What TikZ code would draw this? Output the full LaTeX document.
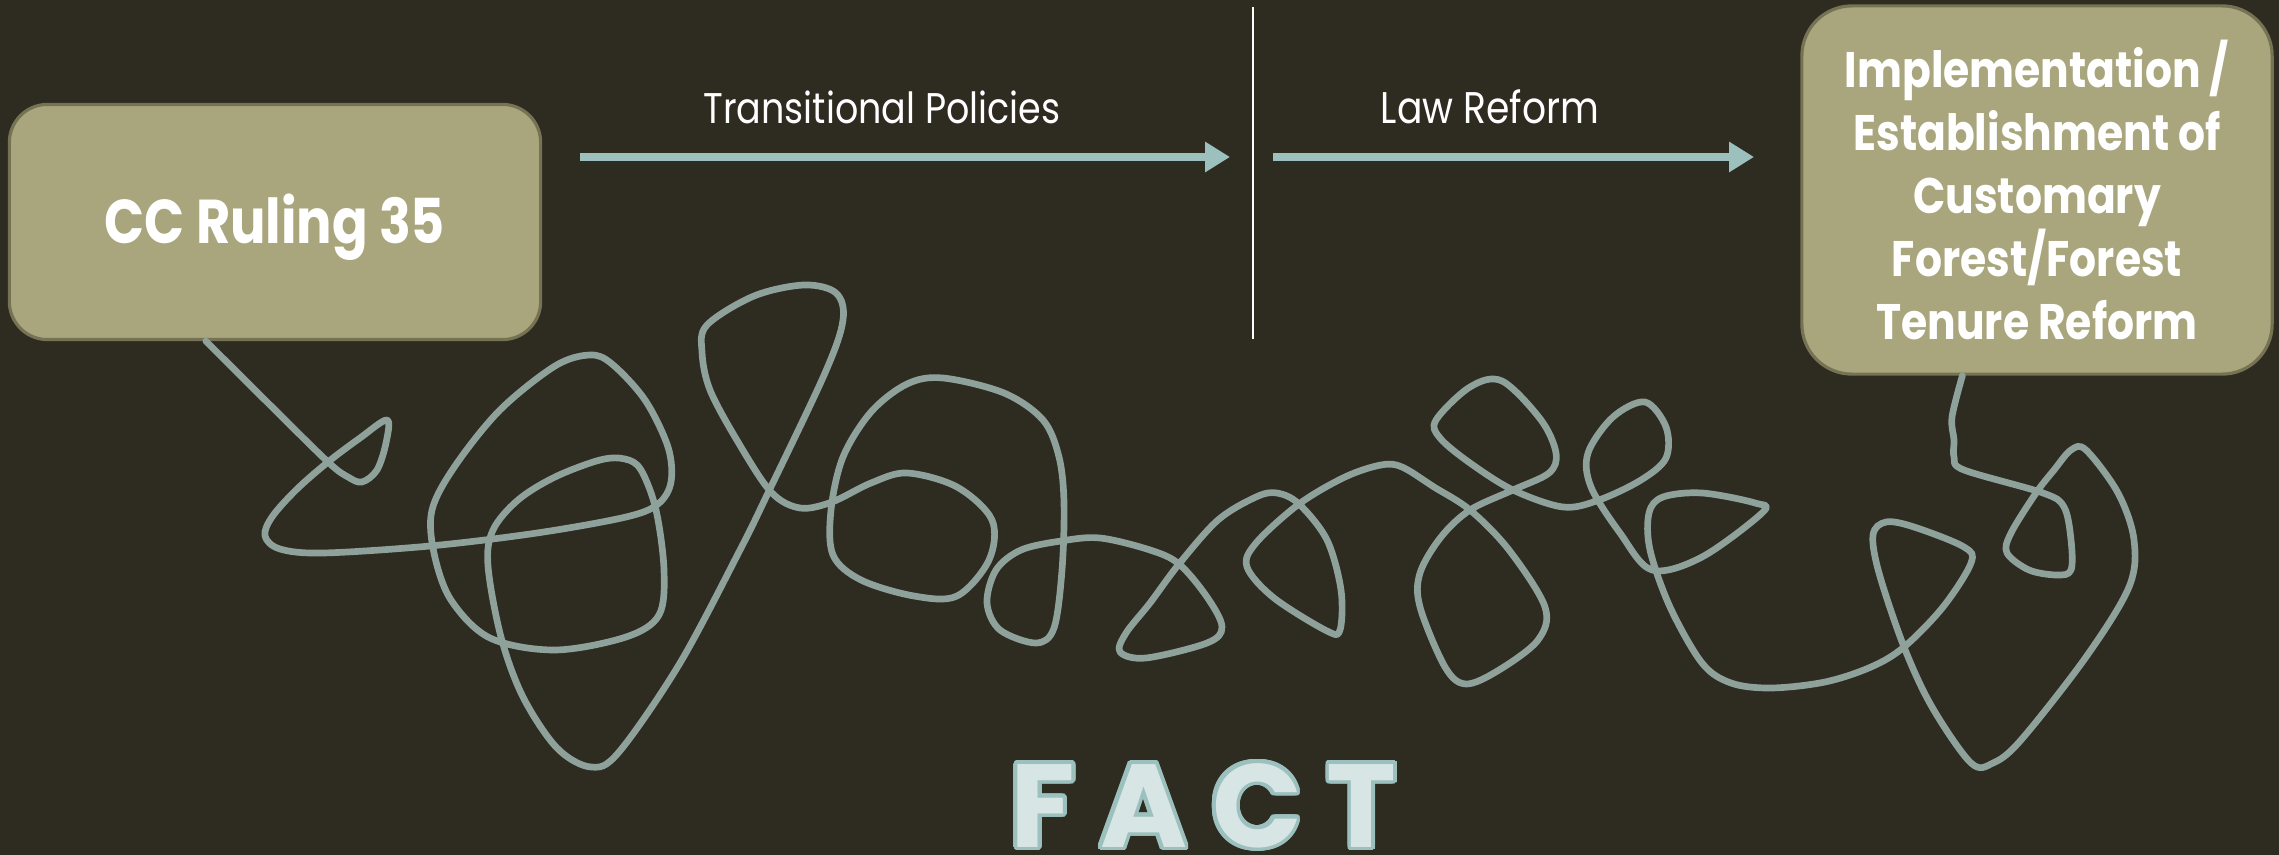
\documentclass[tikz,border=0pt]{standalone}
\usepackage{fontspec}
\setmainfont{Poppins}[FakeStretch=0.85]
\newfontfamily\factfont{Poppins}
\usepackage{contour}
\usetikzlibrary{arrows.meta}

\definecolor{fond}{RGB}{46,43,33}
\definecolor{olive}{RGB}{169,166,125}
\definecolor{olivebord}{RGB}{118,115,84}
\definecolor{fil}{RGB}{143,161,155}
\definecolor{bleuvert}{RGB}{155,192,190}
\definecolor{pale}{RGB}{215,229,229}

\contourlength{1.1pt}
\contournumber{32}

\begin{document}
\begin{tikzpicture}[x=0.01cm, y=-0.01cm,
	boite/.style={draw=olivebord, line width=0.9pt, fill=olive, text=white, align=center},
	etiquette/.style={text=white, anchor=base, inner sep=0pt, font=\fontsize{12.2}{14}\selectfont},
	trait/.style={draw=bleuvert, line width=2.1pt, -{Triangle[length=0.25cm, width=0.29cm]}},
	ficelle/.style={draw=fil, line width=1.9pt, line cap=round, line join=round}]

		%le fond
		\fill[fond] (0,0) rectangle (2279,855);
		\useasboundingbox (0,0) rectangle (2279,855);

		%les boites
		\node[boite, minimum width=5.31cm, minimum height=2.35cm, rounded corners=0.38cm,
			text height=17pt, font=\bfseries\fontsize{17.6}{20}\selectfont] (cc) at (275,222) {CC Ruling 35};
		\node[boite, minimum width=4.7cm, minimum height=3.68cm, rounded corners=0.5cm,
			font=\bfseries\fontsize{14.2}{17.9}\selectfont] (impl) at (2037,190)
			{Implementation /\\Establishment of\\Customary\\Forest/Forest\\Tenure Reform};

		%le separateur
		\coordinate (sep-haut) at (1253,7);
		\coordinate (sep-bas) at (1253,339);
		\draw[white, line width=0.6pt] (sep-haut) -- (sep-bas);

		%les fleches
		\coordinate (tp-a) at (580,157);
		\coordinate (tp-b) at (1230,157);
		\coordinate (lr-a) at (1273,157);
		\coordinate (lr-b) at (1754,157);
		\draw[trait] (tp-a) -- (tp-b);
		\draw[trait] (lr-a) -- (lr-b);
		\node[etiquette] (tp) at (882,124) {Transitional Policies};
		\node[etiquette, font=\fontsize{12.6}{14}\selectfont] (lr) at (1490,124) {Law Reform};

		%la ficelle
		\coordinate (tangle-in) at ([xshift=1.98cm]cc.south west);
		\coordinate (tangle-out) at ([xshift=1.62cm]impl.south west);
		\draw[ficelle] plot[smooth, tension=0.55] coordinates {(tangle-in) (268,403) (328,462) (348,477) (362,482) (377,470) (386,443) (387,420) (360,438) (328,462) (296,490) (272,517) (265,536) (280,549) (323,553) (430,546) (537,533) (626,517) (658,504) (671,482) (668,447) (645,400) (612,364) (590,355) (555,366) (500,410) (455,466) (432,510) (434,553) (451,600) (490,638) (555,650) (626,637) (659,615) (664,570) (656,510) (641,470) (625,459) (600,460) (555,477) (518,500) (493,530) (488,566) (501,637) (523,697) (557,748) (591,767) (619,752) (680,663) (740,550) (768,493) (825,373) (843,320) (836,293) (804,285) (754,296) (707,325) (702,352) (710,390) (738,442) (771,492) (800,508) (832,502) (871,483) (907,473) (957,487) (992,520) (989,560) (957,596) (914,596) (861,580) (833,555) (831,510) (843,457) (871,412) (907,384) (943,378) (1004,393) (1043,420) (1059,457) (1064,503) (1062,570) (1054,628) (1036,643) (1000,630) (987,603) (996,570) (1021,550) (1061,541) (1100,538) (1150,550) (1179,564) (1207,597) (1222,627) (1207,643) (1146,658) (1120,652) (1126,633) (1150,603) (1179,564) (1218,520) (1256,497) (1277,493) (1299,504) (1327,540) (1341,590) (1340,630) (1327,631) (1274,598) (1247,567) (1256,543) (1299,504) (1345,477) (1381,465) (1402,467) (1434,487) (1470,510) (1509,550) (1545,607) (1538,640) (1499,670) (1466,684) (1445,667) (1420,607) (1420,573) (1441,537) (1470,510) (1513,490) (1549,473) (1556,453) (1541,420) (1502,381) (1470,387) (1436,420) (1440,438) (1470,463) (1513,490) (1563,507) (1599,500) (1641,480) (1666,458) (1666,427) (1645,402) (1613,417) (1588,453) (1591,487) (1620,533) (1652,570) (1702,557) (1763,512) (1755,503) (1702,493) (1663,497) (1649,513) (1650,550) (1670,607) (1702,663) (1731,683) (1771,688) (1825,682) (1871,667) (1904,647) (1943,607) (1971,563) (1964,547) (1914,527) (1886,522) (1873,535) (1879,573) (1904,647) (1932,707) (1971,763) (1993,763) (2021,740) (2086,657) (2129,587) (2134,540) (2118,493) (2086,450) (2071,450) (2054,470) (2036,493) (2011,533) (2007,553) (2029,570) (2057,575) (2071,570) (2071,540) (2064,507) (2043,493) (1964,470) (1954,457) (1954,440) (1952,417) (tangle-out)};

		%le titre
		\node[anchor=base west, inner sep=0pt, text=pale] (fact) at (1010,847)
			{\factfont\bfseries\fontsize{33.6}{40}\selectfont\addfontfeature{LetterSpace=21}\contour{bleuvert}{FACT}};

\end{tikzpicture}
\end{document}
